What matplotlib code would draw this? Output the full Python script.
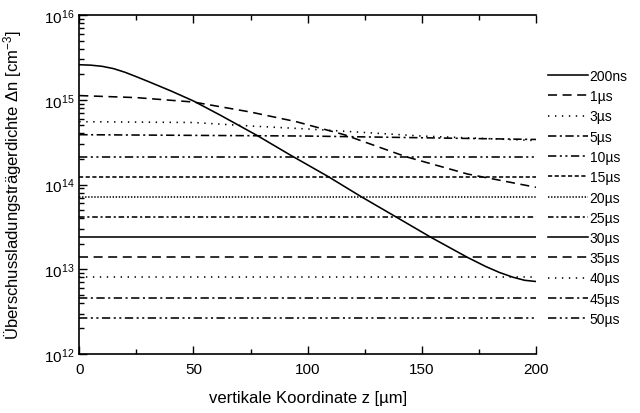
import matplotlib
matplotlib.use("Agg")
import matplotlib.pyplot as plt
from matplotlib.ticker import MultipleLocator, LogLocator, NullFormatter

plt.rcParams['font.family'] = ['Liberation Sans', 'DejaVu Sans']
plt.rcParams['mathtext.fontset'] = 'custom'
plt.rcParams['mathtext.rm'] = 'Liberation Sans'
plt.rcParams['mathtext.it'] = 'Liberation Sans'
plt.rcParams['lines.scale_dashes'] = False

# Daten
labels = ['200ns', '1µs', '3µs', '5µs', '10µs', '15µs', '20µs',
          '25µs', '30µs', '35µs', '40µs', '45µs', '50µs']

z_200ns = [0, 5, 10, 15, 20, 25, 30, 40, 50, 62, 78, 92, 109, 123, 138, 154, 170,
           178, 184, 190, 195, 200]
n_200ns = [2.59e15, 2.56e15, 2.48e15, 2.33e15, 2.11e15, 1.87e15, 1.65e15, 1.275e15,
           9.67e14, 6.52e14, 3.77e14, 2.26e14, 1.24e14, 7.3e13, 4.25e13, 2.38e13,
           1.38e13, 1.077e13, 9.16e12, 8.04e12, 7.41e12, 7.17e12]

z_1us = [0, 25, 50, 75, 95, 116, 143, 170, 200]
n_1us = [1.12e15, 1.06e15, 9.4e14, 7.16e14, 5.51e14, 3.87e14, 2.13e14, 1.33e14, 9.27e13]

z_3us = [0, 50, 75, 100, 150, 200]
n_3us = [5.51e14, 5.39e14, 4.90e14, 4.52e14, 3.73e14, 3.30e14]

z_5us = [0, 100, 200]
n_5us = [3.87e14, 3.73e14, 3.40e14]

z_flach = [0, 200]
n_flach = [2.13e14, 1.22e14, 7.06e13, 4.10e13, 2.38e13, 1.38e13, 8.0e12, 4.6e12, 2.66e12]

linienstil = ['-', (0, (6.5, 4)), (0, (1, 4)), (0, (6, 2.5, 1.5, 2.5)),
              (0, (6, 2.5, 1.5, 2.5, 1.5, 2.5)), (0, (3, 1.8)), (0, (1, 1.2)),
              (0, (4, 2, 1.5, 2)), '-', (0, (6.5, 4)), (0, (1, 4)),
              (0, (6, 2.5, 1.5, 2.5)), (0, (6, 2.5, 1.5, 2.5, 1.5, 2.5))]

fig = plt.figure(figsize=(6.4, 4.14), dpi=100)
ax = fig.add_axes([79.3 / 640, 1 - 355 / 414, (536 - 79.3) / 640, (355 - 16) / 414])

kurven = [(z_200ns, n_200ns), (z_1us, n_1us), (z_3us, n_3us), (z_5us, n_5us)]
for n in n_flach:
    kurven.append((z_flach, [n, n]))

for i in range(len(kurven)):
    z, n = kurven[i]
    ax.plot(z, n, color='black', linestyle=linienstil[i], linewidth=1.15, label=labels[i])

ax.set_yscale('log')
ax.set_xlim(0, 200)
ax.set_ylim(1e12, 1e16)
ax.xaxis.set_major_locator(MultipleLocator(50))
ax.xaxis.set_minor_locator(MultipleLocator(25))
ax.yaxis.set_major_locator(LogLocator(base=10, numticks=10))
ax.yaxis.set_minor_locator(LogLocator(base=10, subs=range(2, 10), numticks=20))
ax.yaxis.set_minor_formatter(NullFormatter())
ax.tick_params(which='both', direction='in', top=True, right=False, labelsize=11)
ax.tick_params(axis='x', which='major', pad=6)
ax.tick_params(which='major', length=6, width=1)
ax.tick_params(which='minor', length=3.5, width=1)
ax.spines['right'].set_visible(False)
for s in ['left', 'bottom', 'top']:
    ax.spines[s].set_linewidth(1.2)

ax.set_xlabel('vertikale Koordinate z [µm]', fontsize=12, labelpad=10)
ax.set_ylabel('Überschussladungsträgerdichte Δn [cm$^{-3}$]', fontsize=12, labelpad=14)

fig.legend(loc='upper left', bbox_to_anchor=(548 / 640, 1 - 70 / 414), frameon=False,
           fontsize=10, handlelength=2.9, handletextpad=0.1, labelspacing=0.45,
           borderpad=0, borderaxespad=0)

plt.savefig('out.png', dpi=100)
